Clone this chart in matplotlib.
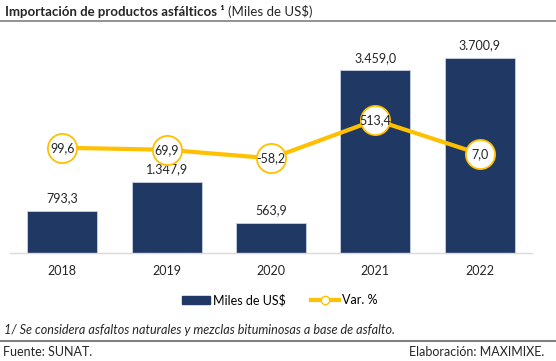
import numpy as np
import matplotlib.pyplot as plt
from matplotlib.lines import Line2D
from matplotlib.patches import Patch

plt.rcParams['font.family'] = ['Lato', 'DejaVu Sans']

years = ['2018', '2019', '2020', '2021', '2022']
miles_usd = [793.3, 1347.9, 563.9, 3459.0, 3700.9]
var_pct = [99.6, 69.9, -58.2, 513.4, 7.0]
bar_labels = ['793,3', '1.347,9', '563,9', '3.459,0', '3.700,9']
var_labels = ['99,6', '69,9', '-58,2', '513,4', '7,0']

navy = '#1F3864'
gold = '#FFC000'

fig = plt.figure(figsize=(5.56, 3.61), dpi=100)
W, H = 556.0, 361.0

ax = fig.add_axes([10/W, 1 - 252.7/H, 522/W, 210.7/H])
x = np.arange(len(years))
ax.bar(x, miles_usd, width=0.67, color=navy, edgecolor='#C9D1E3', linewidth=0.6)
ax.set_xlim(-0.5, 4.5)
ax.set_ylim(0, 4000)
for xi, v, lab in zip(x, miles_usd, bar_labels):
    ax.annotate(lab, (xi, v), xytext=(0, 9), textcoords='offset points',
                ha='center', va='center', fontsize=9, color='#262626')
ax.set_xticks(x)
ax.set_xticklabels(years, fontsize=9, color='#262626')
ax.tick_params(axis='x', length=0, pad=9)
ax.set_yticks([])
for s in ['top', 'left', 'right']:
    ax.spines[s].set_visible(False)
ax.spines['bottom'].set_color('#D9D9D9')
ax.spines['bottom'].set_linewidth(1)

ax2 = ax.twinx()
ax2.plot(x, var_pct, color=gold, linewidth=3, marker='o', markersize=21,
         markerfacecolor='white', markeredgecolor=gold, markeredgewidth=1.3)
ax2.set_ylim(-1467, 1678)
ax2.axis('off')
for xi, v, lab in zip(x, var_pct, var_labels):
    ax2.text(xi, v, lab, ha='center', va='center', fontsize=9, color='#262626')

# title
t1 = fig.text(5/W, 1 - 12/H, 'Importación de productos asfálticos ¹', fontsize=9.5,
              fontweight='bold', color='#262626', va='center', ha='left')
fig.canvas.draw()
bb = t1.get_window_extent()
fig.text(bb.x1 / fig.dpi / fig.get_figwidth() + 3/W, 1 - 12/H, '(Miles de US$)',
         fontsize=9.5, color='#262626', va='center', ha='left')
fig.add_artist(Line2D([0, 1], [1 - 21/H, 1 - 21/H], color='#808080', linewidth=1.2))

# legend
handles = [Patch(color=navy, label='Miles de US$'),
           Line2D([0], [0], color=gold, linewidth=3, marker='o', markersize=6,
                  markerfacecolor='white', markeredgecolor=gold, label='Var. %')]
fig.legend(handles=handles, loc='center', bbox_to_anchor=(280/W, 1 - 300/H),
           ncol=2, frameon=False, fontsize=9, handlelength=2.2, columnspacing=2.0,
           handletextpad=0.3)

# footnotes
fig.text(4/W, 1 - 330/H, '1/ Se considera asfaltos naturales y mezclas bituminosas a base de asfalto.',
         fontsize=9.1, style='italic', color='#262626', va='center')
fig.add_artist(Line2D([0, 1], [1 - 341/H, 1 - 341/H], color='#808080', linewidth=1.5))
fig.text(3/W, 1 - 352/H, 'Fuente: SUNAT.', fontsize=9, color='#262626', va='center')
fig.text(544/W, 1 - 352/H, 'Elaboración: MAXIMIXE.', fontsize=9, color='#262626',
         va='center', ha='right')

fig.savefig('out.png', dpi=100)
